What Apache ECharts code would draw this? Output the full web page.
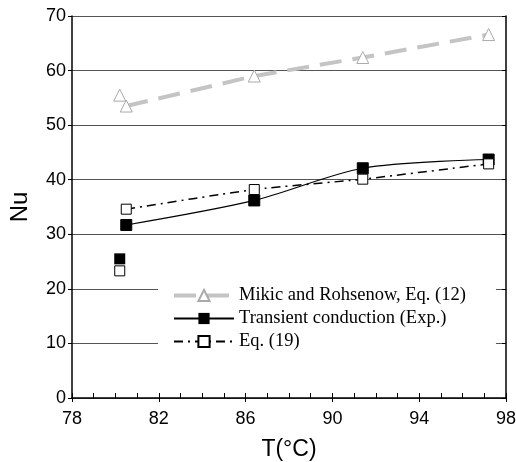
<!DOCTYPE html>
<html lang="en">
<head>
<meta charset="UTF-8">
<title>Nu vs T</title>
<script src="https://cdn.jsdelivr.net/npm/echarts@6/dist/echarts.min.js"></script>
</head>
<body style="margin:0">
<div id="main" style="width:516px;height:462px;"></div>
<script type="text/javascript">
// Mikic and Rohsenow, Eq. (12)
var mikicLine = [[80.5, 53.5], [86.4, 59.0], [91.4, 62.4], [97.2, 66.6]];
var mikicExtra = [[80.2, 55.5]];
// Transient conduction (Exp.)
var expLine = [[80.5, 31.7], [86.4, 36.2], [91.4, 42.1], [97.2, 43.7]];
var expExtra = [[80.2, 25.5]];
// Eq. (19)
var eqLine = [[80.5, 34.6], [86.4, 38.2], [91.4, 40.1], [97.2, 42.9]];
var eqExtra = [[80.2, 23.3]];

var myChart = echarts.init(document.getElementById('main'));
var gray = '#c4c4c4';

var option = {
    animation: false,
    grid: { left: 72, right: 10, top: 16, bottom: 64, containLabel: false, outerBoundsMode: 'none' },
    legend: {
        left: 158, top: 283,
        orient: 'vertical',
        backgroundColor: '#fff',
        padding: [3, 30, 6, 14],
        itemWidth: 60, itemHeight: 14, itemGap: 4,
        textStyle: { fontFamily: 'Liberation Serif', fontSize: 18.5, color: '#000' },
        data: [
            { name: 'Mikic and Rohsenow, Eq. (12)', lineStyle: { color: gray, width: 4, type: [22, 11] } },
            { name: 'Transient conduction (Exp.)' },
            { name: 'Eq. (19)', lineStyle: { color: '#000', width: 2, type: [9, 5, 2, 5] } }
        ]
    },
    xAxis: [{
        type: 'value', min: 78, max: 98, interval: 4,
        name: 'T(°C)', nameLocation: 'middle', nameGap: 40,
        nameTextStyle: { fontFamily: 'Liberation Sans', fontSize: 23, color: '#000' },
        axisLine: { lineStyle: { color: '#000', width: 1.5 } },
        axisTick: { length: 4, lineStyle: { color: '#000' } },
        axisLabel: { fontFamily: 'Liberation Sans', fontSize: 18, color: '#000', margin: 12 },
        splitLine: { show: false }
    }, {
        type: 'value', min: 78, max: 98, interval: 1, position: 'bottom',
        axisLine: { show: false },
        axisTick: { inside: true, length: 5, lineStyle: { color: '#000' } },
        axisLabel: { show: false },
        splitLine: { show: false }
    }],
    yAxis: [{
        type: 'value', min: 0, max: 70, interval: 10,
        name: 'Nu', nameLocation: 'middle', nameGap: 40,
        nameTextStyle: { fontFamily: 'Liberation Sans', fontSize: 24, color: '#000' },
        axisLine: { show: true, lineStyle: { color: '#000', width: 1.5 } },
        axisTick: { show: true, length: 4, lineStyle: { color: '#000' } },
        axisLabel: { fontFamily: 'Liberation Sans', fontSize: 18, color: '#000', margin: 6 },
        splitLine: { lineStyle: { color: '#555', width: 1 } }
    }, {
        type: 'value', min: 0, max: 70, interval: 10, position: 'right',
        axisLine: { show: true, lineStyle: { color: '#000', width: 1.5 } },
        axisTick: { show: true, inside: true, length: 4, lineStyle: { color: '#000' } },
        axisLabel: { show: false },
        splitLine: { show: false }
    }],
    series: [{
        name: 'Mikic and Rohsenow, Eq. (12)', type: 'line', data: mikicLine,
        symbol: 'triangle', symbolSize: 12,
        itemStyle: { color: '#fff', borderColor: '#aaa', borderWidth: 1 },
        lineStyle: { color: gray, width: 4, type: [22, 11] },
        z: 3
    }, {
        name: 'Mikic and Rohsenow, Eq. (12)', type: 'scatter', data: mikicExtra,
        symbol: 'triangle', symbolSize: 12,
        itemStyle: { color: '#fff', borderColor: '#aaa', borderWidth: 1, opacity: 1 }
    }, {
        name: 'Transient conduction (Exp.)', type: 'line', data: expLine, smooth: 0.3,
        symbol: 'rect', symbolSize: 11,
        itemStyle: { color: '#000', borderColor: '#000' },
        lineStyle: { color: '#000', width: 1.2 },
        z: 4
    }, {
        name: 'Transient conduction (Exp.)', type: 'scatter', data: expExtra,
        symbol: 'rect', symbolSize: 11,
        itemStyle: { color: '#000', opacity: 1 }
    }, {
        name: 'Eq. (19)', type: 'line', data: eqLine, smooth: 0.2,
        symbol: 'rect', symbolSize: 10,
        itemStyle: { color: '#fff', borderColor: '#000', borderWidth: 1 },
        lineStyle: { color: '#000', width: 1.5, type: [9, 5, 2, 5] },
        z: 5
    }, {
        name: 'Eq. (19)', type: 'scatter', data: eqExtra,
        symbol: 'rect', symbolSize: 10,
        itemStyle: { color: '#fff', borderColor: '#000', borderWidth: 1, opacity: 1 }
    }]
};

myChart.setOption(option);
</script>
</body>
</html>
